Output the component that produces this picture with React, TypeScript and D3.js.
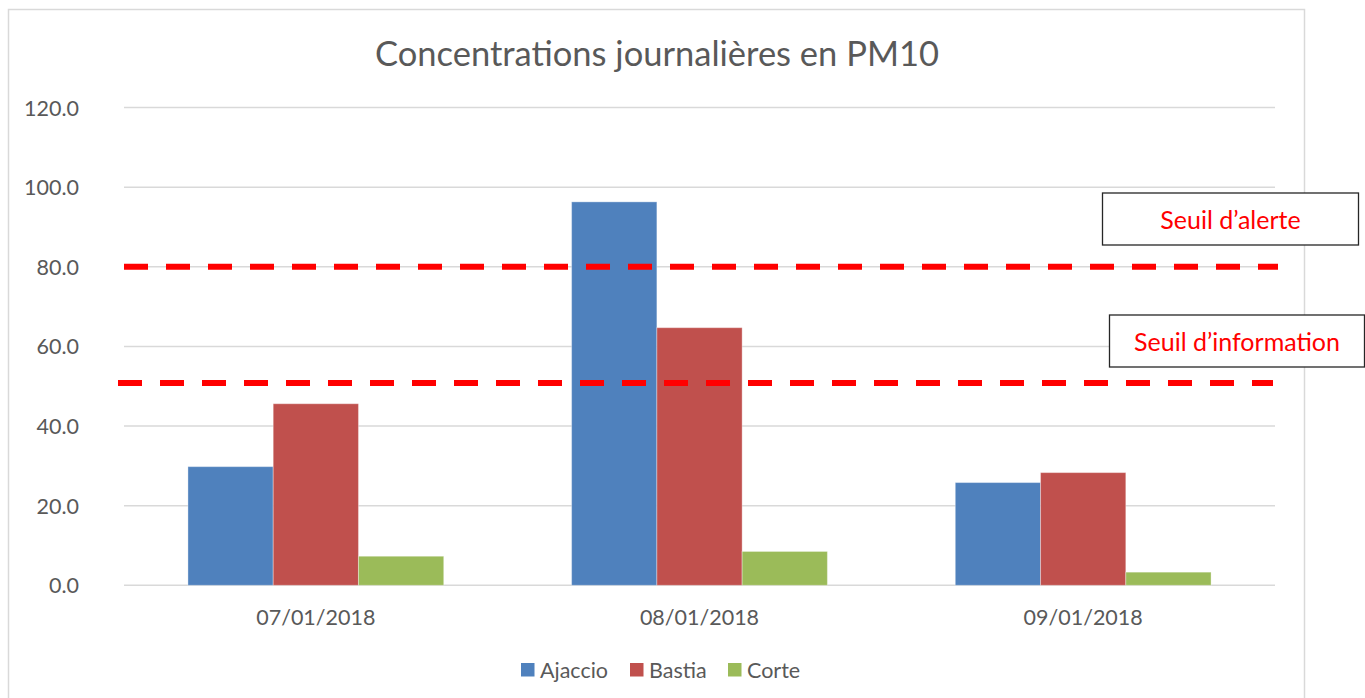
import React from "react";
import * as d3 from "d3";

const categories = ["07/01/2018", "08/01/2018", "09/01/2018"];
const seriesNames = ["Ajaccio", "Bastia", "Corte"];
const ajaccio = [29.8, 96.3, 25.8];
const bastia = [45.6, 64.7, 28.3];
const corte = [7.3, 8.5, 3.3];
const yTicks = [0, 20, 40, 60, 80, 100, 120];
const thresholds = [
  { label: "Seuil d\u2019alerte", value: 80 },
  { label: "Seuil d\u2019information", value: 50.8 },
];
const colors = ["#4F81BD", "#C0504D", "#9BBB59"];

const W = 1365;
const H = 698;
const FONT = "Lato, 'Open Sans', sans-serif";
const TEXT = "#595959";

export default function App() {
  const values = [ajaccio, bastia, corte];
  const x0 = d3.scaleBand<string>().domain(categories).range([124, 1275]).padding(0);
  const x1 = d3
    .scaleBand<string>()
    .domain(seriesNames)
    .range([0, x0.bandwidth()])
    .paddingInner(0)
    .paddingOuter(0.75);
  const y = d3.scaleLinear().domain([0, 120]).range([585.3, 107.5]);

  const boxes = [
    { x: 1102.5, y: 193, w: 256, h: 52 },
    { x: 1109.5, y: 315, w: 255, h: 52 },
  ];
  const lineExt = [
    [124, 1278],
    [118, 1273],
  ];

  return (
    <svg
      width={W}
      height={H}
      style={{ position: "absolute", left: 0, top: 0, background: "#fff" }}
      fontFamily={FONT}
    >
      <rect x={8.5} y={9.5} width={1296} height={700} fill="#fff" stroke="#D9D9D9" strokeWidth={1.5} />
      <text x={657} y={52} textAnchor="middle" dominantBaseline="central" fontSize={34.5} fill={TEXT}>
        Concentrations journalières en PM10
      </text>
      {yTicks.map((t) => (
        <g key={t}>
          <line x1={124} x2={1275} y1={y(t)} y2={y(t)} stroke="#D9D9D9" strokeWidth={1.5} />
          <text x={79} y={y(t)} textAnchor="end" dominantBaseline="central" fontSize={21.5} fill={TEXT}>
            {d3.format(".1f")(t)}
          </text>
        </g>
      ))}
      {categories.map((c, ci) => (
        <g key={c}>
          {seriesNames.map((s, si) => (
            <rect
              key={s}
              x={(x0(c) ?? 0) + (x1(s) ?? 0)}
              y={y(values[si][ci])}
              width={x1.bandwidth()}
              height={y(0) - y(values[si][ci])}
              fill={colors[si]}
              stroke="#ffffff"
              strokeOpacity={0.35}
              strokeWidth={1}
            />
          ))}
          <text
            x={(x0(c) ?? 0) + x0.bandwidth() / 2}
            y={617}
            textAnchor="middle"
            dominantBaseline="central"
            fontSize={21.5}
            fill={TEXT}
          >
            {c}
          </text>
        </g>
      ))}
      {thresholds.map((t, i) => (
        <line
          key={t.label}
          x1={lineExt[i][0]}
          x2={lineExt[i][1]}
          y1={y(t.value)}
          y2={y(t.value)}
          stroke="#FF0000"
          strokeWidth={6}
          strokeDasharray="24 18"
        />
      ))}
      {thresholds.map((t, i) => (
        <g key={t.label + "box"}>
          <rect
            x={boxes[i].x}
            y={boxes[i].y}
            width={boxes[i].w}
            height={boxes[i].h}
            fill="#fff"
            stroke="#262626"
            strokeWidth={1.3}
          />
          <text
            x={boxes[i].x + boxes[i].w / 2}
            y={boxes[i].y + boxes[i].h / 2}
            textAnchor="middle"
            dominantBaseline="central"
            fontSize={25}
            fill="#FF0000"
          >
            {t.label}
          </text>
        </g>
      ))}
      {seriesNames.map((s, i) => {
        const lx = [521, 630, 728][i];
        return (
          <g key={s}>
            <rect x={lx} y={663} width={13.5} height={13.5} fill={colors[i]} />
            <text x={lx + 19} y={670} dominantBaseline="central" fontSize={21.5} fill={TEXT}>
              {s}
            </text>
          </g>
        );
      })}
    </svg>
  );
}
